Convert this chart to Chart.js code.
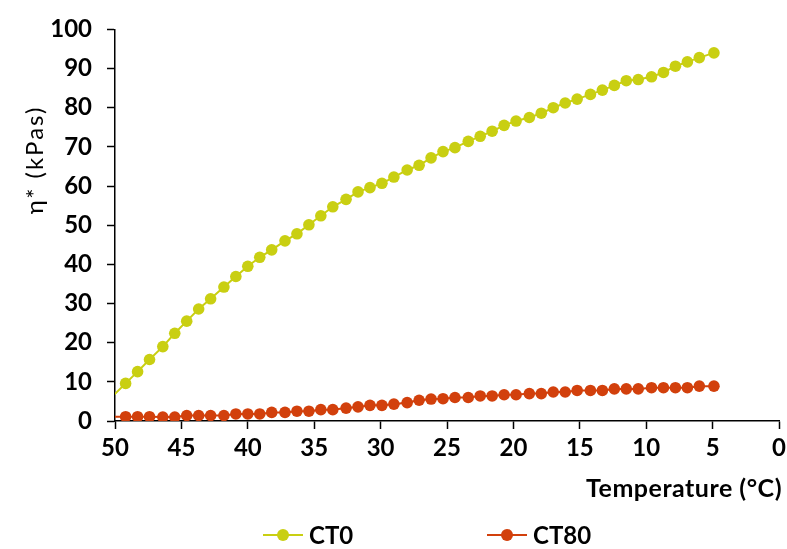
<!DOCTYPE html>
<html>
<head>
<meta charset="utf-8">
<script src="https://cdn.jsdelivr.net/npm/chart.js@4/dist/chart.umd.min.js"></script>
<style>
  html, body { margin: 0; padding: 0; background: #fff; }
  #wrap { position: relative; width: 787px; height: 549px; }
  #legend { position: absolute; left: 0; top: 0; width: 787px; height: 549px; pointer-events: none; }
  .item { position: absolute; top: 520px; display: flex; align-items: center; font: bold 24px Lato, "Liberation Sans", sans-serif; color: #000; }
  .mark { position: relative; width: 40px; height: 2px; margin-right: 6px; }
  .mark span { position: absolute; left: 14px; top: -5px; width: 12px; height: 12px; border-radius: 50%; }
</style>
</head>
<body>
<div id="wrap">
  <canvas id="chart" width="787" height="549"></canvas>
  <div id="legend"></div>
</div>
<script>
// ------------------ DATA ------------------
const seriesNames = ["CT0", "CT80"];
const seriesColors = ["#c9cf12", "#d2400c"];

// temperature (°C); the first one sits just outside the axis
const temps = [
  50.1, 49.2, 48.3, 47.4, 46.4, 45.5, 44.6, 43.7, 42.8, 41.8, 40.9,
  40.0, 39.1, 38.2, 37.2, 36.3, 35.4, 34.5, 33.6, 32.6, 31.7,
  30.8, 29.9, 29.0, 28.0, 27.1, 26.2, 25.3, 24.4, 23.4, 22.5,
  21.6, 20.7, 19.8, 18.8, 17.9, 17.0, 16.1, 15.2, 14.2, 13.3,
  12.4, 11.5, 10.6, 9.6, 8.7, 7.8, 6.9, 6.0, 4.9
];

const ct0 = [
  6.6, 9.6, 12.6, 15.7, 19.0, 22.4, 25.5, 28.6, 31.2, 34.2, 36.9,
  39.5, 41.8, 43.7, 46.0, 47.8, 50.1, 52.4, 54.7, 56.6, 58.5,
  59.6, 60.7, 62.3, 64.1, 65.3, 67.2, 68.8, 69.8, 71.4, 72.7,
  74.0, 75.5, 76.6, 77.5, 78.6, 80.0, 81.2, 82.2, 83.4, 84.5,
  85.7, 86.9, 87.2, 87.9, 89.0, 90.6, 91.7, 92.8, 94.0
];

const ct80 = [
  1.1, 1.1, 1.1, 1.1, 1.0, 1.0, 1.4, 1.4, 1.4, 1.4, 1.8,
  1.8, 1.8, 2.2, 2.2, 2.5, 2.5, 2.9, 2.9, 3.3, 3.6,
  4.0, 4.0, 4.3, 4.7, 5.3, 5.6, 5.7, 6.0, 6.0, 6.4,
  6.4, 6.7, 6.7, 7.0, 7.0, 7.4, 7.4, 7.8, 7.8, 7.8,
  8.2, 8.2, 8.2, 8.5, 8.5, 8.5, 8.5, 8.9, 8.9
];

const xTicks = [50, 45, 40, 35, 30, 25, 20, 15, 10, 5, 0];
const yTicks = [0, 10, 20, 30, 40, 50, 60, 70, 80, 90, 100];

const xTitle = "Temperature (°C)";
const yTitle = "η* (kPas)";

// ------------------ HELPERS ------------------
function toPoints(values) {
  return values.map((v, i) => ({ x: temps[i], y: v }));
}

// hide the marker of the off-axis point, keep its line segment
const radii = temps.map((t, i) => (i === 0 ? 0 : 5.8));

const fontFamily = "Lato, 'Liberation Sans', sans-serif";
const tickFont = { family: fontFamily, size: 24, weight: "bold" };

// axis titles sit off-center in the original (and the x axis is reversed),
// so both are drawn by hand
const axisTitlePlugin = {
  id: "axisTitles",
  afterDraw(chart) {
    const ctx = chart.ctx;
    ctx.save();
    ctx.fillStyle = "#000";
    ctx.textBaseline = "middle";

    ctx.font = `bold 25px ${fontFamily}`;
    ctx.letterSpacing = "0.5px";
    ctx.textAlign = "right";
    ctx.fillText(xTitle, chart.chartArea.right + 3, 489);

    ctx.translate(35, 160);
    ctx.rotate(-Math.PI / 2);
    ctx.font = `24px ${fontFamily}`;
    ctx.letterSpacing = "2px";
    ctx.textAlign = "center";
    ctx.fillText(yTitle, 0, 0);
    ctx.restore();
  }
};

// ------------------ CHART ------------------
const ctx = document.getElementById("chart").getContext("2d");
new Chart(ctx, {
  type: "scatter",
  data: {
    datasets: [
      {
        label: seriesNames[0],
        data: toPoints(ct0),
        showLine: true,
        borderColor: seriesColors[0],
        backgroundColor: seriesColors[0],
        borderWidth: 2,
        pointRadius: radii,
        pointBorderWidth: 0,
      },
      {
        label: seriesNames[1],
        data: toPoints(ct80),
        showLine: true,
        borderColor: seriesColors[1],
        backgroundColor: seriesColors[1],
        borderWidth: 2,
        pointRadius: radii,
        pointBorderWidth: 0,
      },
    ],
  },
  options: {
    responsive: false,
    animation: false,
    layout: { padding: { left: 0, right: 8, top: 23, bottom: 0 } },
    plugins: {
      legend: { display: false },
      tooltip: { enabled: false },
    },
    scales: {
      x: {
        type: "linear",
        reverse: true,
        min: 0,
        max: 50,
        afterBuildTicks: (scale) => { scale.ticks = xTicks.map(v => ({ value: v })); },
        afterFit: (scale) => {
          scale.height = 128;
          scale.paddingLeft = 0;
          scale.paddingRight = 0;
        },
        ticks: { color: "#000", font: tickFont, padding: 5, maxRotation: 0 },
        grid: { drawOnChartArea: false, drawTicks: true, tickLength: 8, tickColor: "#000", tickWidth: 1.5 },
        border: { display: true, color: "#000", width: 1.5 },
      },
      y: {
        min: 0,
        max: 100,
        afterBuildTicks: (scale) => { scale.ticks = yTicks.map(v => ({ value: v })); },
        afterFit: (scale) => { scale.width = 115; },
        ticks: { color: "#000", font: tickFont, padding: 15 },
        grid: { drawOnChartArea: false, drawTicks: true, tickLength: 8, tickColor: "#000", tickWidth: 1.5 },
        border: { display: true, color: "#000", width: 1.5 },
      },
    },
  },
  plugins: [axisTitlePlugin],
});

// ------------------ LEGEND ------------------
const legendLefts = [263, 487];
const legend = document.getElementById("legend");
seriesNames.forEach((name, i) => {
  const item = document.createElement("div");
  item.className = "item";
  item.style.left = legendLefts[i] + "px";
  item.innerHTML = `
    <div class="mark" style="background:${seriesColors[i]}"><span style="background:${seriesColors[i]}"></span></div>
    <span>${name}</span>
  `;
  legend.appendChild(item);
});
</script>
</body>
</html>
